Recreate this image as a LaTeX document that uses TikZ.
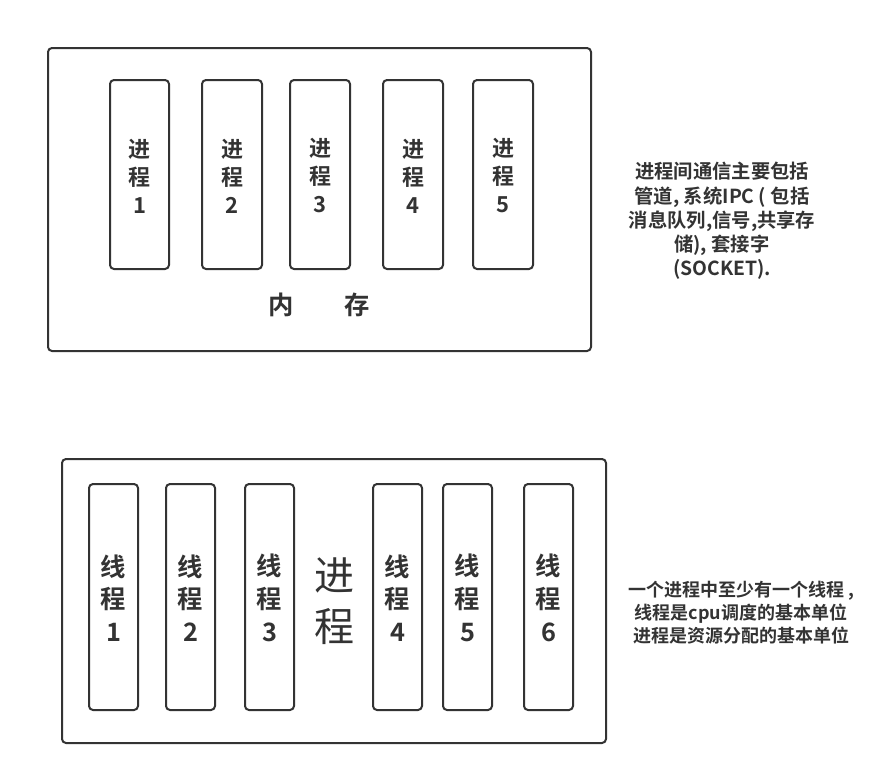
\documentclass[tikz,border=0pt]{standalone}
\usepackage{fontspec}
\setmainfont{Noto Sans CJK SC}
\newfontfamily\cjkb{Noto Sans CJK SC Bold}
\definecolor{ink}{HTML}{333333}
\tikzset{
  frame/.style={draw=ink, line width=1.5pt, rounded corners=3pt},
  lbl/.style={text=ink, font=\cjkb\fontsize{16.5pt}{21pt}\selectfont, align=center, inner sep=0pt},
  lblb/.style={text=ink, font=\cjkb\fontsize{19pt}{24.5pt}\selectfont, align=center, inner sep=0pt},
  note/.style={text=ink, font=\cjkb\fontsize{14.5pt}{18.2pt}\selectfont, align=center, inner sep=0pt},
  noteb/.style={text=ink, font=\cjkb\fontsize{13.5pt}{17.3pt}\selectfont, align=center, inner sep=0pt},
}
\begin{document}
\begin{tikzpicture}[x=0.75pt,y=-0.75pt]
\useasboundingbox[fill=white] (0,0) rectangle (894,775);
% top memory box
\draw[frame] (48,48) rectangle (591,351);
\foreach \l/\r/\n in {110/169/1,202/262/2,290/350/3,383/443/4,473/533/5}{
  \draw[frame] (\l,80) rectangle (\r,269);
  \node[lbl] (p\n) at ({(\l+\r)/2},176) {进\\程\\\n};
}
\node[lbl, font=\cjkb\fontsize{19pt}{24pt}\selectfont] (mem1) at (281,305) {内};
\node[lbl, font=\cjkb\fontsize{19pt}{24pt}\selectfont] (mem2) at (357,305) {存};
\node[note] (n1) at (722,221) {进程间通信主要包括\\管道, 系统IPC ( 包括\\消息队列,信号,共享存\\储), 套接字\\(SOCKET).};
% bottom process box
\draw[frame] (62,459) rectangle (606,743);
\foreach \l/\r/\n in {89/138/1,166/215/2,245/294/3,373/422/4,443/492/5,524/573/6}{
  \draw[frame] (\l,484) rectangle (\r,710);
  \node[lblb] (t\n) at ({(\l+\r)/2},598) {线\\程\\\n};
}
\node[text=ink, font=\fontsize{30pt}{38pt}\selectfont, align=center, inner sep=0pt] (proc) at (334,601) {进\\程};
\node[noteb] (n2) at (741,613) {一个进程中至少有一个线程 ,\\线程是cpu调度的基本单位\\进程是资源分配的基本单位};
\end{tikzpicture}
\end{document}
